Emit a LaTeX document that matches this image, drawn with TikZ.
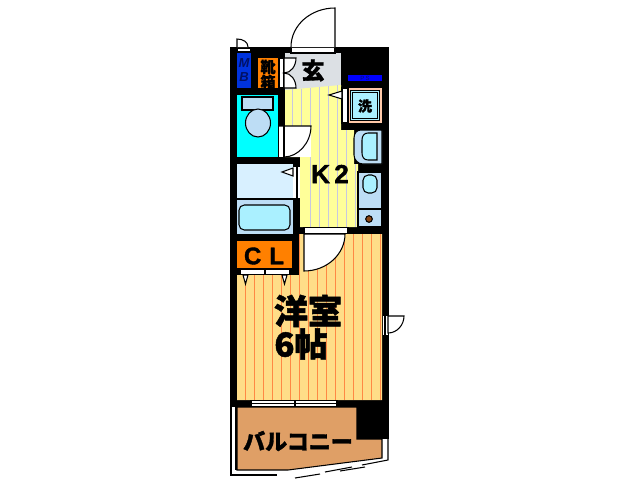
\documentclass[tikz,border=0pt]{standalone}
\usepackage{fontspec}
\setmainfont{Liberation Sans}[BoldFeatures={FakeBold=1.5}]
\newfontfamily\cjk{Noto Sans CJK JP}[BoldFeatures={FakeBold=1.5}]
\definecolor{grayroom}{HTML}{DCE0E4}
\definecolor{kityellow}{HTML}{FFFF99}
\definecolor{kitline}{HTML}{C8C8E0}
\definecolor{roomfill}{HTML}{FFDD88}
\definecolor{roomline}{HTML}{FF8844}
\definecolor{palebath}{HTML}{D8F0FF}
\definecolor{unitblue}{HTML}{BDDDF5}
\definecolor{aquafill}{HTML}{AAF0FF}
\definecolor{toiletcyan}{HTML}{00FFFF}
\definecolor{clorange}{HTML}{FF8000}
\definecolor{balcony}{HTML}{DF9F66}
\definecolor{mbblue}{HTML}{0033DD}
\definecolor{psblue}{HTML}{0000FF}
\definecolor{washrim}{HTML}{FFC8A8}
\definecolor{burner}{HTML}{8B4513}
\definecolor{navytext}{HTML}{001166}
\tikzset{
  px/.style={line width=0.6pt},
  panel/.style={px,draw=black,fill=white},
  unit/.style={px,draw=black,fill=unitblue},
  aqua/.style={px,draw=black,fill=aquafill},
  heavy/.style={inner sep=0pt,font=\cjk\bfseries},
  stripe/.style={line width=0.5pt},
}
\newcommand{\pxfont}[1]{\fontsize{\the\dimexpr #1pt*57/100\relax}{\the\dimexpr #1pt*60/100\relax}\selectfont}
\begin{document}
\begin{tikzpicture}[x=0.02cm,y=-0.02cm]
\useasboundingbox (0,0) rectangle (638,480);
\fill[white] (0,0) rectangle (638,480);
% walls
\fill[black] (230,47) rectangle (389,407);
\fill[black] (357,405) rectangle (389,439);
% entrance + kitchen
\fill[grayroom] (285,53) rectangle (341,90);
\fill[kityellow] (285,90) -- (341,85) -- (341,130) -- (354,130) -- (354,164) -- (358,164) -- (358,227) -- (300,227) -- (300,157) -- (285,157) -- cycle;
\foreach \x in {292,301,310,319,328,337}{\draw[kitline,stripe] (\x,{90-(\x-285)*0.09}) -- (\x,126);}
\foreach \x in {310,319,328,337}{\draw[kitline,stripe] (\x,126) -- (\x,227);}
\draw[kitline,stripe] (346,130) -- (346,227);
\draw[kitline,stripe] (355,164) -- (355,227);
% room
\fill[roomfill] (300,234) -- (382,234) -- (382,400) -- (237,400) -- (237,275) -- (300,275) -- cycle;
\foreach \x in {245,254,263,272,281,290}{\draw[roomline,stripe] (\x,275) -- (\x,400);}
\foreach \x in {299,308,317,326,335,344,353,362,371,380}{\draw[roomline,stripe] (\x,234) -- (\x,400);}
% balcony
\fill[white] (230.5,407) rectangle (236,475);
\draw[px,fill=balcony] (237,407) -- (357,407) -- (357,439) -- (382,439) -- (382,458) -- (288,470) -- (237,470) -- cycle;
\fill[black] (357,405) rectangle (389,439);
\draw[px] (231,407) -- (231,475) -- (277,475);
\draw[px] (236,407) -- (236,470);
\draw[px] (388,439) -- (388,460) -- (362,465);
\draw[px] (352,467) -- (325,472);
\draw[px] (365,467) -- (340,471);
\draw[px] (320,474) -- (295,478);
% balcony window
\draw[panel] (251,400.5) rectangle (337,406.5);
\draw[px] (251,403.5) -- (337,403.5);
\draw[px] (295,400.5) -- (295,406.5);
% MB and its door
\fill[mbblue] (237,53) rectangle (251,88);
\draw[panel] (237,48) rectangle (251,52);
\draw[panel] (237,47) -- (237,39) .. controls (243,39) and (248,42) .. (248,47);
% shoe box
\fill[clorange] (258,58) rectangle (278,88);
\draw[panel] (279,58) rectangle (284,88);
\draw[panel] (284,58) -- (296,58) .. controls (296,66) and (291,73) .. (284,73) .. controls (291,73) and (296,80) .. (296,88) -- (284,88) -- cycle;
% main door
\draw[panel] (291,47.5) rectangle (335,53);
\draw[panel] (335,47) -- (335,8) .. controls (311,8) and (291,25) .. (291,47);
% PS
\fill[psblue] (348,75) rectangle (382,81);
% washer
\fill[washrim] (348,88) rectangle (382,123);
\draw[aqua] (350.5,90.5) rectangle (379.5,120.5);
\draw[px] (352.5,92.5) rectangle (377.5,118.5);
\draw[panel] (342,88) rectangle (348,123);
\draw[panel] (342,91) -- (329,95) -- (342,99) -- cycle;
% toilet
\fill[toiletcyan] (237,95) rectangle (278,157);
\draw[unit] (242,97) rectangle (273,110);
\draw[unit] (258,123) ellipse [x radius=12.5,y radius=14];
% toilet door
\fill[white] (279,126) rectangle (311,157);
\draw[px] (284,126) -- (284,157);
\draw[px] (279,126) -- (311,126) .. controls (311,143) and (298,157) .. (284,157);
% bath
\fill[palebath] (237,164) rectangle (293,199);
\fill[unitblue] (237,199) rectangle (293,234);
\draw[px] (237,199) -- (293,199);
\draw[aqua,rounded corners=3] (239,205) rectangle (290,230);
\fill[white] (293,167) rectangle (300,198);
\draw[px] (297,167) -- (297,198);
\draw[panel] (293,168) -- (282,172) -- (293,176) -- cycle;
% closet
\fill[clorange] (237,241) rectangle (292,268);
\draw[panel] (240,269) rectangle (265,274.5);
\draw[panel] (265,269) rectangle (290,274.5);
\draw[panel] (243,275) -- (248,275) -- (245.5,284) -- cycle;
\draw[panel] (282,275) -- (287,275) -- (284.5,284) -- cycle;
% sink
\draw[unit] (382,130) -- (361,130) .. controls (357,130) and (354,133) .. (354,138) -- (354,155) .. controls (354,160) and (358,164) .. (363,164) -- (382,164) -- cycle;
\draw[aqua] (377,133) -- (368,133) .. controls (364,133) and (362,136) .. (362,140) -- (362,153) .. controls (362,157) and (364,160) .. (368,160) -- (377,160) -- cycle;
% stove
\draw[unit] (358,172) rectangle (382,227);
\draw[aqua,rounded corners=3] (363,175) rectangle (377,193);
\draw[px] (358,209) -- (382,209);
\draw[px,fill=burner] (369,219) circle [radius=3.3];
% room door
\draw[panel] (304,227.5) rectangle (348,233.5);
\draw[panel] (304,234) -- (345,234) .. controls (345,254) and (327,271) .. (304,271) -- cycle;
% right door
\fill[white] (383,316) rectangle (388,335);
\draw[px] (385,316) -- (385,335);
\draw[panel] (388,316) -- (404,316) .. controls (404,325) and (397,333) .. (388,333) -- cycle;
% texts
\node[heavy,text=black] (tgen) at (313,70.5) {\pxfont{23}玄};
\node[heavy,text=black] (tshoe1) at (268,67) {\pxfont{15}靴};
\node[heavy,text=black] (tshoe2) at (268,82) {\pxfont{15}箱};
\node[heavy,text=black] (twash) at (365,106) {\pxfont{14}洗};
\node[inner sep=0pt,text=navytext,font=\bfseries\itshape] (tm) at (244,63) {\pxfont{13}M};
\node[inner sep=0pt,text=navytext,font=\bfseries\itshape] (tb) at (244,77) {\pxfont{13}B};
\node[inner sep=0pt,text=navytext] (tps) at (365,78) {\pxfont{6}P\,S};
\node[inner sep=0pt,font=\bfseries] (tk2) at (330,174) {\pxfont{26}K\,2};
\node[inner sep=0pt,font=\bfseries] (tcl) at (264,256) {\pxfont{24}C\,\,L};
\node[heavy] (troom) at (308,311) {\pxfont{34}洋室};
\node[heavy] (tsix) at (301,344) {\pxfont{33}6帖};
\node[heavy] (tbal) at (298,441) {\pxfont{22}バルコニー};
\end{tikzpicture}
\end{document}
